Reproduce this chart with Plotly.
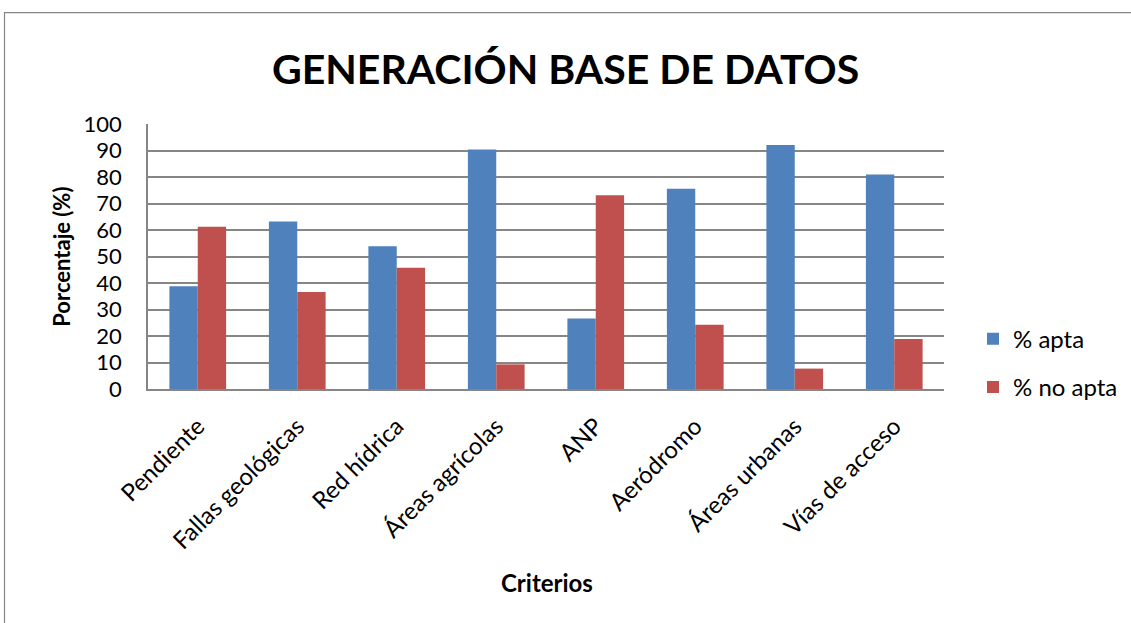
import plotly.graph_objects as go

categories = ["Pendiente", "Fallas geológicas", "Red hídrica", "Áreas agrícolas",
              "ANP", "Aeródromo", "Áreas urbanas", "Vías de acceso"]
apta = [38.8, 63.2, 53.9, 90.4, 26.6, 75.6, 92.1, 80.9]
no_apta = [61.2, 36.6, 45.8, 9.3, 73.1, 24.2, 7.7, 18.9]
y_ticks = [0, 10, 20, 30, 40, 50, 60, 70, 80, 90, 100]

W, H = 1131, 623
L, R, T, B = 148, 944, 124, 389.5
pw, ph = R - L, B - T
FONT = "Lato"

fig = go.Figure()
fig.add_trace(go.Bar(name="% apta", x=categories, y=apta, marker_color="#4F81BD",
                     marker_line_width=0, legendgroup="a"))
fig.add_trace(go.Bar(name="% no apta", x=categories, y=no_apta, marker_color="#C0504D",
                     marker_line_width=0, legendgroup="b"))

def px_x(x):
    return (x - L) / pw

def px_y(y):
    return (B - y) / ph

fig.update_layout(
    width=W, height=H,
    margin=dict(l=L, r=W - R, t=T, b=H - B, pad=0, autoexpand=False),
    paper_bgcolor="white", plot_bgcolor="white",
    barmode="group", bargap=0.43, bargroupgap=0,
    font=dict(family=FONT, color="black"),
    title=dict(text="<b>GENERACIÓN BASE DE DATOS</b>", x=0.5, xref="container",
               xanchor="center", y=1 - 70 / H, yanchor="middle",
               font=dict(size=41, family=FONT, color="black")),
    xaxis=dict(tickangle=-45, tickfont=dict(size=24, family=FONT), showgrid=False,
               showline=True, linecolor="#868686", linewidth=1.5, ticks="",
               ticklabelstandoff=12, automargin=False),
    yaxis=dict(range=[0, 100], tickvals=y_ticks, tickfont=dict(size=22, family=FONT),
               showgrid=True, gridcolor="#868686", gridwidth=1.5,
               showline=True, linecolor="#868686", linewidth=1.5, ticks="",
               ticklabelstandoff=20, zeroline=False, automargin=False),
    legend=dict(x=px_x(973), y=px_y(317), xanchor="left", yanchor="top",
                font=dict(size=24, family=FONT), traceorder="grouped",
                tracegroupgap=14, bgcolor="rgba(0,0,0,0)"),
    annotations=[
        dict(text="<b>Criterios</b>", xref="paper", yref="paper", x=px_x(547), y=px_y(583),
             showarrow=False, xanchor="center", yanchor="middle", font=dict(size=24, family=FONT)),
        dict(text="<b>Porcentaje (%)</b>", xref="paper", yref="paper", x=px_x(62), y=px_y(257),
             showarrow=False, xanchor="center", yanchor="middle", textangle=-90,
             font=dict(size=22, family=FONT)),
    ],
    shapes=[
        dict(type="rect", xref="paper", yref="paper", x0=px_x(4.5), x1=px_x(1200),
             y0=px_y(700), y1=px_y(12.5), line=dict(color="#868686", width=1.2),
             fillcolor="rgba(0,0,0,0)", layer="below"),
    ],
)

fig.write_html("out.html", config={"displayModeBar": False},
               post_script="document.body.style.margin='0';document.body.style.padding='0';")
